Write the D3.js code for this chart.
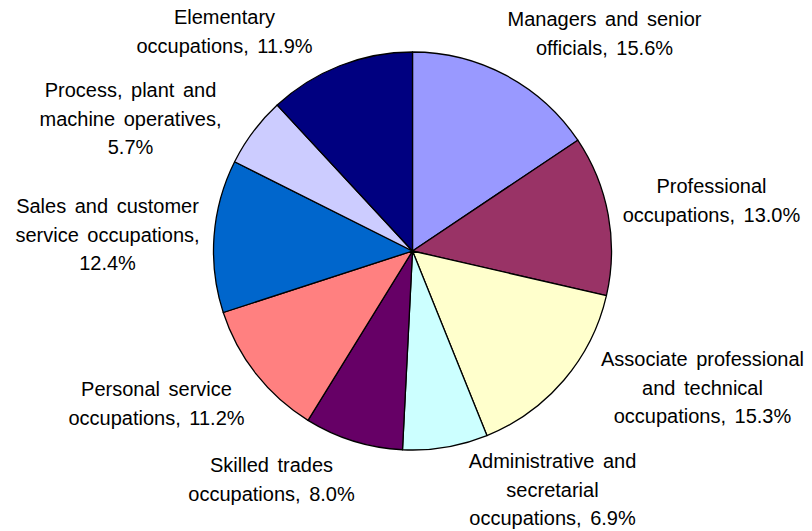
<!DOCTYPE html>
<html>
<head>
<meta charset="utf-8">
<script src="https://cdn.jsdelivr.net/npm/d3@7"></script>
<style>
	body { margin: 0; background: #fff; }
	svg text { font-family: "Liberation Sans", Arial, sans-serif; font-size: 20px; word-spacing: 3px; fill: #000; }
</style>
</head>
<body>
<div id="chart"></div>
<script>
// occupation groups, clockwise from 12 o'clock
var categories = [
	"Managers and senior officials",
	"Professional occupations",
	"Associate professional and technical occupations",
	"Administrative and secretarial occupations",
	"Skilled trades occupations",
	"Personal service occupations",
	"Sales and customer service occupations",
	"Process, plant and machine operatives",
	"Elementary occupations"
];
var shares = [15.6, 13.0, 15.3, 6.9, 8.0, 11.2, 12.4, 5.7, 11.9];

// how each label wraps (last line gets the percentage)
var labelLines = [
	["Managers and senior", "officials,"],
	["Professional", "occupations,"],
	["Associate professional", "and technical", "occupations,"],
	["Administrative and", "secretarial", "occupations,"],
	["Skilled trades", "occupations,"],
	["Personal service", "occupations,"],
	["Sales and customer", "service occupations,"],
	["Process, plant and", "machine operatives,"],
	["Elementary", "occupations,"]
];
// labels that put the percentage on a line of its own
var pctOwnLine = [false, false, false, false, false, false, true, true, false];

var colors = ["#9999FF", "#993366", "#FFFFCC", "#CCFFFF", "#660066",
	"#FF8080", "#0066CC", "#CCCCFF", "#000080"];

var width = 812, height = 531;
var cx = 412.5, cy = 251, radius = 199;
var lineHeight = 28.7;

// label anchor (centre x, first baseline y) relative to pie centre
var labelPos = [
	[192, -225], [299, -58], [290, 115], [140, 217], [-141, 221],
	[-256, 145], [-305, -38], [-282, -154], [-188, -227]
];

var svg = d3.select("#chart").append("svg")
	.attr("width", width)
	.attr("height", height)

var g = svg.append("g")
	.attr("transform", "translate(" + cx + "," + cy + ")")

var pie = d3.pie().sort(null).value(function(d){ return d })
var arc = d3.arc().innerRadius(0).outerRadius(radius)

var arcs = pie(shares)

g.selectAll("path.slice")
	.data(arcs)
	.enter().append("path")
	.attr("class", "slice")
	.attr("d", arc)
	.attr("fill", function(d, i){ return colors[i] })
	.attr("stroke", "#000")
	.attr("stroke-width", 1.3)
	.attr("stroke-linejoin", "round")

var fmt = d3.format(".1f")

var labels = g.selectAll("text.label")
	.data(arcs)
	.enter().append("text")
	.attr("class", "label")
	.attr("text-anchor", "middle")
	.attr("x", function(d, i){ return labelPos[i][0] })
	.attr("y", function(d, i){ return labelPos[i][1] })

labels.each(function(d, i){
	var lines = labelLines[i].slice()
	var pct = fmt(shares[i]) + "%"
	if(pctOwnLine[i]) lines.push(pct)
	else lines[lines.length - 1] = lines[lines.length - 1] + " " + pct
	var t = d3.select(this)
	lines.forEach(function(line, k){
		t.append("tspan")
			.attr("x", labelPos[i][0])
			.attr("dy", k == 0 ? 0 : lineHeight)
			.text(line)
	})
})
</script>
</body>
</html>
